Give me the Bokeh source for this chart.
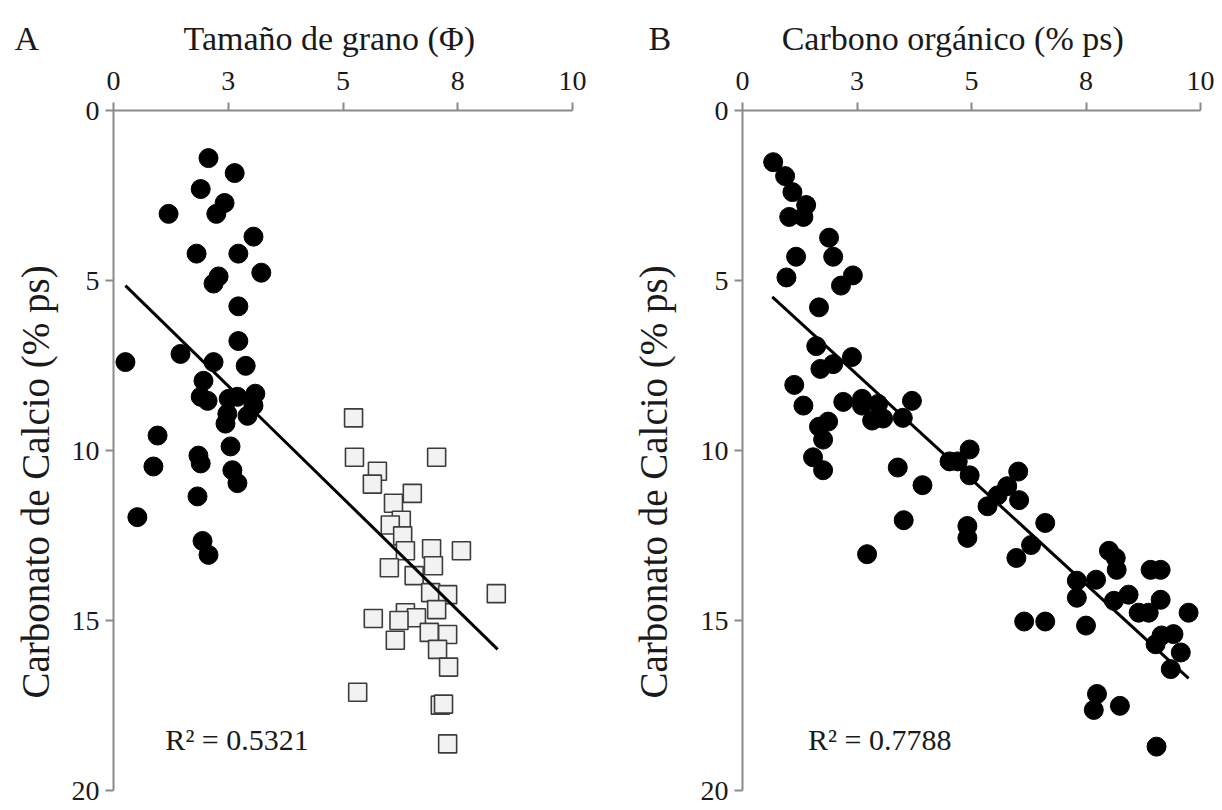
import math
from bokeh.plotting import figure
from bokeh.layouts import row
from bokeh.models import FixedTicker, CustomJSTickFormatter, Label, Title
from bokeh.embed import file_html
from bokeh.resources import INLINE

# ---------------- data ----------------
# Panel A: grain size (phi) vs CaCO3 (% ps)
a_circ_x = [2.07, 2.64, 1.90, 2.42, 2.24, 1.20, 3.05, 1.81, 2.72, 3.22, 2.29, 2.18, 2.72,
            2.72, 0.26, 1.46, 2.18, 2.88, 1.96, 1.90, 2.05, 2.51, 2.70, 3.09, 3.05, 2.92,
            2.48, 2.44, 0.96, 2.55, 1.85, 1.90, 0.87, 2.59, 2.70, 1.83, 0.52, 1.94, 2.07]
a_circ_y = [1.40, 1.84, 2.31, 2.72, 3.04, 3.04, 3.71, 4.21, 4.21, 4.77, 4.88, 5.09, 5.76,
            6.78, 7.40, 7.16, 7.40, 7.51, 7.95, 8.42, 8.54, 8.48, 8.42, 8.33, 8.68, 8.98,
            8.92, 9.21, 9.56, 9.88, 10.15, 10.38, 10.47, 10.58, 10.96, 11.35, 11.96, 12.66, 13.07]
a_sq_x = [5.23, 5.25, 7.04, 5.75, 5.64, 6.51, 6.10, 6.27, 6.03, 6.30, 6.36, 6.93, 7.58,
          6.01, 6.97, 6.55, 8.34, 6.91, 7.28, 5.66, 6.36, 6.60, 7.04, 6.22, 6.88, 7.28,
          6.14, 7.06, 7.30, 5.32, 7.12, 7.19, 7.28]
a_sq_y = [9.04, 10.20, 10.20, 10.61, 10.99, 11.26, 11.55, 12.05, 12.19, 12.51, 12.95, 12.89, 12.95,
          13.45, 13.39, 13.68, 14.21, 14.18, 14.24, 14.94, 14.77, 14.92, 14.68, 15.00, 15.35, 15.41,
          15.58, 15.85, 16.37, 17.11, 17.49, 17.46, 18.63]
a_trend_x = [0.26, 8.37]
a_trend_y = [5.15, 15.85]
a_r2 = "R² = 0.5321"
a_letter = "A"
a_xtitle = "Tamaño de grano (Φ)"

# Panel B: organic carbon (% ps) vs CaCO3 (% ps)
b_x = [0.67, 0.93, 1.09, 1.39, 1.02, 1.33, 1.89, 1.17, 1.98, 2.41, 0.96, 2.15, 1.67,
       1.61, 2.39, 1.70, 1.98, 1.13, 2.20, 2.61, 2.61, 2.96, 3.70, 1.33, 2.83, 3.07, 3.50,
       1.87, 1.67, 1.76, 1.54, 1.76, 3.39, 3.93, 3.52, 4.52, 4.70, 4.96, 4.96, 4.91, 4.91, 2.72,
       6.02, 5.78, 5.57, 5.35, 6.04, 6.61, 6.30, 5.98, 8.00, 8.15, 8.17, 8.91, 9.13, 7.30, 7.72,
       7.30, 8.43, 8.11, 9.13, 9.74, 8.65, 8.87, 6.15, 6.61, 7.50, 9.15, 9.41, 9.02, 9.57, 9.35,
       7.74, 7.67, 8.24, 9.04]
b_y = [1.52, 1.93, 2.40, 2.78, 3.13, 3.13, 3.74, 4.30, 4.30, 4.85, 4.91, 5.15, 5.79,
       6.93, 7.25, 7.60, 7.46, 8.07, 8.57, 8.48, 8.68, 8.63, 8.54, 8.68, 9.12, 9.06, 9.04,
       9.15, 9.30, 9.68, 10.20, 10.58, 10.50, 11.02, 12.05, 10.32, 10.32, 9.97, 10.73, 12.22, 12.57, 13.05,
       10.62, 11.05, 11.32, 11.64, 11.46, 12.13, 12.78, 13.16, 12.95, 13.16, 13.51, 13.51, 13.51, 13.83, 13.80,
       14.33, 14.24, 14.42, 14.39, 14.77, 14.77, 14.77, 15.03, 15.03, 15.15, 15.44, 15.40, 15.70, 15.94, 16.43,
       17.16, 17.63, 17.51, 18.71]
b_trend_x = [0.65, 9.74]
b_trend_y = [5.48, 16.70]
b_r2 = "R² = 0.7788"
b_letter = "B"
b_xtitle = "Carbono orgánico (% ps)"

x_ticks = [0, 2.5, 5, 7.5, 10]
y_ticks = [0, 5, 10, 15, 20]
y_title = "Carbonato de Calcio (% ps)"

FONT = "Liberation Serif"
AXIS_COL = "#8a8a8a"
TXT_COL = "#1a1a1a"
NBSP = "\u00a0"


def make_panel(width, left, right, letter, gap, xtitle, letter_offset, r2_text, r2_x,
               ytitle_standoff):
    p = figure(width=width, height=808, x_range=(0, 10), y_range=(20, 0),
               x_axis_location="above", output_backend="svg", toolbar_location=None,
               min_border_left=left, min_border_right=right, min_border_top=110,
               min_border_bottom=18)
    p.outline_line_color = None
    p.xgrid.visible = False
    p.ygrid.visible = False
    p.background_fill_color = "white"
    p.border_fill_color = "white"

    p.xaxis.ticker = FixedTicker(ticks=x_ticks)
    p.xaxis.formatter = CustomJSTickFormatter(code="return Math.round(tick).toFixed(0);")
    p.yaxis.ticker = FixedTicker(ticks=y_ticks)
    for ax in (p.xaxis, p.yaxis):
        ax.axis_line_color = AXIS_COL
        ax.axis_line_width = 2
        ax.major_tick_line_color = AXIS_COL
        ax.major_tick_line_width = 2
        ax.major_tick_out = 8
        ax.major_tick_in = 0
        ax.minor_tick_out = 0
        ax.minor_tick_in = 0
        ax.major_label_text_font = FONT
        ax.major_label_text_font_size = "28px"
        ax.major_label_text_color = TXT_COL
    p.xaxis.major_label_standoff = 13
    p.yaxis.major_label_standoff = 6

    # panel letter and x heading on one line
    head = Title(text=letter + NBSP * gap + xtitle, align="left", offset=letter_offset,
                 text_font=FONT, text_font_size="34px", text_font_style="normal",
                 text_color=TXT_COL, vertical_align="middle", standoff=22)
    p.add_layout(head, "above")

    ytl = Title(text=y_title, align="left", offset=92, text_font=FONT,
                text_font_size="39px", text_font_style="normal", text_color=TXT_COL,
                vertical_align="top", standoff=ytitle_standoff)
    p.add_layout(ytl, "left")

    p.add_layout(Label(x=r2_x, y=18.5, text=r2_text, text_font=FONT,
                       text_font_size="30px", text_color=TXT_COL,
                       text_align="left", text_baseline="middle"))
    return p


pA = make_panel(608, 113, 36, a_letter, 17, a_xtitle, -99, a_r2, 1.13, 20)
pA.scatter(a_circ_x, a_circ_y, marker="circle", size=19, fill_color="black", line_color="black")
pA.scatter(a_sq_x, a_sq_y, marker="square", size=18, fill_color="#f2f2f2",
           line_color="#3c3c3c", line_width=1.6)
pA.line(a_trend_x, a_trend_y, line_color="black", line_width=3)

pB = make_panel(606, 134, 14, b_letter, 13, b_xtitle, -94, b_r2, 1.43, 42)
pB.scatter(b_x, b_y, marker="circle", size=19, fill_color="black", line_color="black")
pB.line(b_trend_x, b_trend_y, line_color="black", line_width=3)

layout = row(pA, pB)
open("out.html", "w").write(file_html(layout, INLINE))
